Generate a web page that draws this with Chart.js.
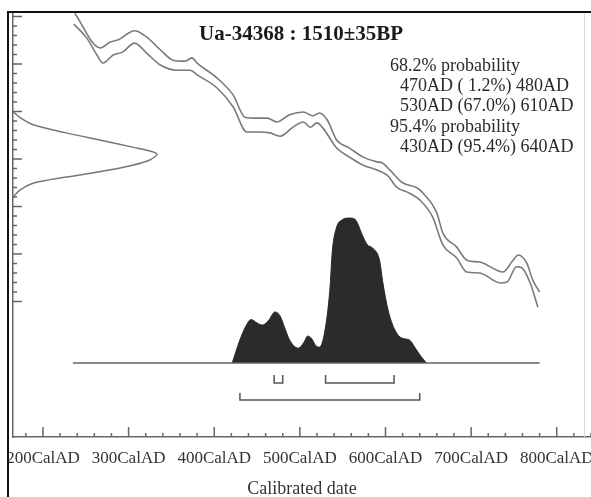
<!DOCTYPE html>
<html>
<head>
<meta charset="utf-8">
<title>Ua-34368 : 1510±35BP</title>
<script src="https://cdn.jsdelivr.net/npm/chart.js@4"></script>
<style>
    body { margin: 0; background: #fff; }
    #wrap { position: relative; width: 591px; height: 497px; }
</style>
</head>
<body>
<div id="wrap"><canvas id="calChart" width="591" height="497"></canvas></div>
<script>
// Calibration curve band (calendar year AD -> radiocarbon age BP)
const upperYears = [237, 267, 278, 288, 307, 321, 337, 352, 366, 374, 380, 403, 422, 436, 450, 462, 473, 488, 504, 515, 523, 532, 543, 558, 574, 590, 596, 605, 620, 637, 644, 660, 667, 683, 695, 710, 730, 737, 749, 755, 765, 772, 780];
const upperBP = [1807, 1734, 1746, 1751, 1770, 1757, 1730, 1708, 1706, 1713, 1702, 1671, 1635, 1588, 1586, 1586, 1578, 1593, 1599, 1591, 1597, 1582, 1540, 1523, 1504, 1494, 1492, 1477, 1450, 1439, 1428, 1386, 1344, 1315, 1287, 1283, 1266, 1262, 1287, 1298, 1281, 1245, 1220];
const lowerYears = [236, 251, 263, 270, 282, 293, 307, 321, 337, 356, 372, 380, 403, 422, 438, 453, 465, 477, 492, 504, 512, 520, 527, 543, 558, 574, 590, 602, 613, 628, 640, 655, 667, 683, 695, 710, 734, 742, 753, 759, 769, 778];
const lowerBP = [1784, 1755, 1719, 1702, 1719, 1725, 1744, 1723, 1698, 1687, 1687, 1677, 1650, 1610, 1557, 1557, 1555, 1548, 1567, 1578, 1567, 1576, 1565, 1523, 1504, 1487, 1477, 1466, 1441, 1428, 1414, 1378, 1319, 1292, 1262, 1260, 1239, 1241, 1273, 1271, 1239, 1188];

// Radiocarbon measurement drawn sideways against the BP axis (relative density)
const gaussBP = [1600, 1587, 1572, 1555, 1540, 1525, 1517, 1510, 1498, 1487, 1473, 1462, 1449, 1435, 1420];
const gaussDensity = [0, 0.05, 0.14, 0.37, 0.6, 0.83, 0.95, 1, 0.95, 0.83, 0.6, 0.37, 0.14, 0.05, 0];

// Calibrated date distribution (relative probability, peak = 1)
const probYears = [421, 430, 437, 443, 450, 456, 463, 471, 477, 482, 488, 498, 505, 509, 514, 519, 523, 529, 535, 538, 543, 549, 558, 564, 574, 579, 585, 593, 597, 603, 611, 619, 628, 634, 642, 648];
const probValues = [0, 0.16, 0.255, 0.3, 0.276, 0.262, 0.29, 0.352, 0.324, 0.248, 0.159, 0.103, 0.145, 0.186, 0.166, 0.117, 0.11, 0.214, 0.503, 0.779, 0.938, 0.986, 1, 0.993, 0.869, 0.814, 0.793, 0.71, 0.552, 0.366, 0.228, 0.172, 0.159, 0.11, 0.041, 0];

// Plotted range and highest probability ranges
const rangeYears = [235, 780];
const ranges68 = [[470, 480], [530, 610]];
const ranges95 = [[430, 640]];

// Axis labels and text
const xLabelYears = [200, 300, 400, 500, 600, 700, 800];
const bpTickRange = [1200, 1800];
const titleText = 'Ua-34368 : 1510\u00b135BP';
const summaryLines = ['68.2% probability', '470AD ( 1.2%) 480AD', '530AD (67.0%) 610AD', '95.4% probability', '430AD (95.4%) 640AD'];

const serif = '"Liberation Serif", "Times New Roman", serif';
Chart.defaults.font.family = serif;

function toPoints(xs, ys) {
    return xs.map((x, i) => ({ x: x, y: ys[i] }));
}

// Bracket under the distribution for one range
function bracket(r, top, bottom) {
    return [{ x: r[0], y: top }, { x: r[0], y: bottom }, { x: r[1], y: bottom }, { x: r[1], y: top }];
}

function bracketSet(r, top, bottom) {
    return {
        data: bracket(r, top, bottom),
        borderColor: '#555',
        borderWidth: 1.5,
        pointRadius: 0,
        tension: 0,
        xAxisID: 'x',
        yAxisID: 'yProb'
    };
}

// Inward tick marks on both axes, taken from the scales' own ticks
const axisTicksPlugin = {
    id: 'axisTicks',
    afterDatasetsDraw: (chart) => {
        const { ctx, chartArea, scales: { x, y } } = chart;
        ctx.save();
        ctx.strokeStyle = '#666';
        ctx.lineWidth = 1.5;
        ctx.beginPath();
        x.ticks.forEach(t => {
            const px = x.getPixelForValue(t.value);
            const len = t.value % 100 === 0 ? 10 : 4;
            ctx.moveTo(px, chartArea.bottom);
            ctx.lineTo(px, chartArea.bottom - len);
        });
        y.ticks.forEach(t => {
            const py = y.getPixelForValue(t.value);
            const len = t.value % 100 === 0 ? 9 : 4;
            ctx.moveTo(chartArea.left, py);
            ctx.lineTo(chartArea.left + len, py);
        });
        ctx.stroke();
        ctx.restore();
    }
};

// Title, probability summary and the frame
const annotationPlugin = {
    id: 'annotations',
    afterDraw: (chart) => {
        const ctx = chart.ctx;
        ctx.save();
        ctx.textBaseline = 'alphabetic';
        ctx.textAlign = 'left';
        ctx.fillStyle = '#1a1a1a';
        ctx.font = 'bold 21px ' + serif;
        ctx.fillText(titleText, 199, 40);

        ctx.fillStyle = '#2a2a2a';
        ctx.font = '18px ' + serif;
        summaryLines.forEach((line, i) => {
            const indent = line.indexOf('probability') >= 0 ? 390 : 400;
            ctx.fillText(line, indent, 71 + i * 20.2);
        });

        ctx.fillStyle = '#dcdcdc';
        ctx.fillRect(584, 13, 1, 424);
        ctx.fillStyle = '#111';
        ctx.fillRect(7, 11, 2, 486);
        ctx.fillRect(7, 11, 584, 2);
        ctx.restore();
    }
};

const ctx = document.getElementById('calChart').getContext('2d');

window.calChart = new Chart(ctx, {
    type: 'line',
    plugins: [axisTicksPlugin, annotationPlugin],
    data: {
        datasets: [
            {
                label: 'Range',
                data: toPoints(rangeYears, [0, 0]),
                borderColor: '#666',
                borderWidth: 1.5,
                pointRadius: 0,
                xAxisID: 'x',
                yAxisID: 'yProb'
            },
            {
                label: 'Calibrated date',
                data: toPoints(probYears, probValues),
                borderColor: '#2b2b2b',
                backgroundColor: '#2b2b2b',
                borderWidth: 1,
                fill: 'origin',
                pointRadius: 0,
                cubicInterpolationMode: 'monotone',
                xAxisID: 'x',
                yAxisID: 'yProb'
            },
            {
                label: 'Curve upper',
                data: toPoints(upperYears, upperBP),
                borderColor: '#7a7a7a',
                borderWidth: 1.6,
                pointRadius: 0,
                cubicInterpolationMode: 'monotone',
                xAxisID: 'x',
                yAxisID: 'y'
            },
            {
                label: 'Curve lower',
                data: toPoints(lowerYears, lowerBP),
                borderColor: '#7a7a7a',
                borderWidth: 1.6,
                pointRadius: 0,
                cubicInterpolationMode: 'monotone',
                xAxisID: 'x',
                yAxisID: 'y'
            },
            {
                label: 'Radiocarbon date',
                data: toPoints(gaussDensity, gaussBP),
                borderColor: '#777',
                borderWidth: 1.5,
                pointRadius: 0,
                tension: 0.3,
                xAxisID: 'xDens',
                yAxisID: 'y'
            },
            ...ranges68.map(r => bracketSet(r, -0.083, -0.138)),
            ...ranges95.map(r => bracketSet(r, -0.207, -0.255))
        ]
    },
    options: {
        responsive: false,
        animation: false,
        events: [],
        layout: {
            autoPadding: false,
            padding: { left: 13, top: 12, right: 0, bottom: 0 }
        },
        elements: {
            point: { radius: 0, hoverRadius: 0 }
        },
        plugins: {
            legend: { display: false },
            tooltip: { enabled: false }
        },
        scales: {
            x: {
                type: 'linear',
                position: 'bottom',
                min: 165,
                max: 840,
                afterFit: (scale) => {
                    scale.height = 60;
                    scale.paddingLeft = 0;
                    scale.paddingRight = 0;
                },
                ticks: {
                    stepSize: 20,
                    includeBounds: false,
                    autoSkip: false,
                    maxRotation: 0,
                    padding: 11,
                    color: '#333',
                    font: { size: 17 },
                    callback: (v) => xLabelYears.includes(v) ? v + 'CalAD' : ''
                },
                grid: { drawOnChartArea: false, drawTicks: false },
                border: { color: '#666', width: 1.5 },
                title: {
                    display: true,
                    text: 'Calibrated date',
                    color: '#333',
                    font: { size: 18 },
                    padding: { top: 0, bottom: -3 }
                }
            },
            y: {
                type: 'linear',
                position: 'left',
                min: 914.7,
                max: 1809.5,
                afterFit: (scale) => { scale.width = 0; },
                afterBuildTicks: (scale) => {
                    scale.ticks = scale.ticks.filter(t => t.value >= bpTickRange[0] && t.value <= bpTickRange[1]);
                },
                ticks: { display: false, stepSize: 20, includeBounds: false },
                grid: { drawOnChartArea: false, drawTicks: false },
                border: { color: '#666', width: 1.5 }
            },
            xDens: { type: 'linear', display: false, min: 0, max: 4.014 },
            yProb: { type: 'linear', display: false, min: -0.51, max: 2.421 }
        }
    }
});
</script>
</body>
</html>
